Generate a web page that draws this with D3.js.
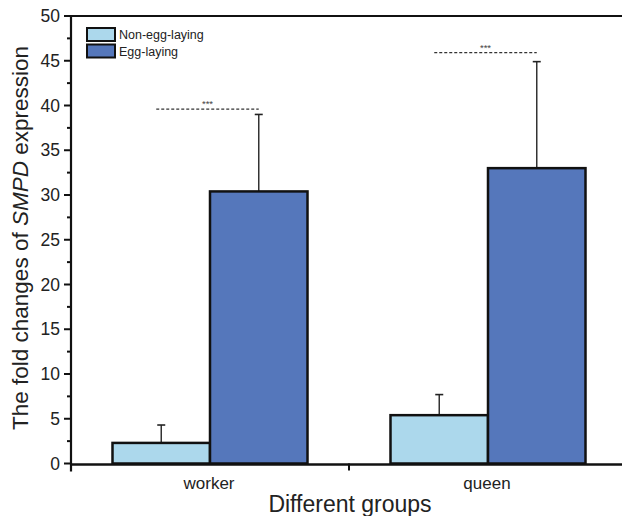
<!DOCTYPE html>
<html><head><meta charset="utf-8">
<script src="https://cdn.jsdelivr.net/npm/d3@7"></script>
<style>body{margin:0;background:#fff}svg{display:block;font-family:"Liberation Sans",Arial,sans-serif}</style>
</head><body><svg id="c" width="622" height="516"></svg>
<script>
const groups = ["worker", "queen"];
const seriesNames = ["Non-egg-laying", "Egg-laying"];
const meanNonEgg = [2.3, 5.4];
const meanEgg = [30.4, 33.0];
const errNonEgg = [2.0, 2.3];
const errEgg = [8.6, 11.9];
const sigLevel = [39.6, 45.9];
const sigLabel = ["***", "***"];
const yTicks = [0, 5, 10, 15, 20, 25, 30, 35, 40, 45, 50];
const colors = ["#acd8ec", "#5577bb"];

const svg = d3.select("#c");
const L = 71, R = 627, T = 16, B = 463.5;
const x = d3.scaleBand().domain(groups).range([L, R]).paddingInner(0).paddingOuter(0);
const xs = d3.scaleBand().domain(seriesNames).range([0, x.bandwidth()]).paddingInner(0).paddingOuter(0.4256);
const y = d3.scaleLinear().domain([0, 50]).range([B, T]);

const data = [];
groups.forEach((g, i) => {
  data.push({g, s: seriesNames[0], v: meanNonEgg[i], e: errNonEgg[i], c: colors[0]});
  data.push({g, s: seriesNames[1], v: meanEgg[i], e: errEgg[i], c: colors[1]});
});
data.forEach(d => {
  const cx = x(d.g) + xs(d.s) + xs.bandwidth() / 2;
  svg.append("line").attr("x1", cx).attr("x2", cx).attr("y1", y(d.v)).attr("y2", y(d.v + d.e)).attr("stroke", "#333").attr("stroke-width", 1.5);
  svg.append("line").attr("x1", cx - 4).attr("x2", cx + 4).attr("y1", y(d.v + d.e)).attr("y2", y(d.v + d.e)).attr("stroke", "#222").attr("stroke-width", 1.6);
});
svg.selectAll("rect.bar").data(data).join("rect").attr("class", "bar")
  .attr("x", d => x(d.g) + xs(d.s))
  .attr("y", d => y(d.v))
  .attr("width", xs.bandwidth())
  .attr("height", d => y(0) - y(d.v))
  .attr("fill", d => d.c).attr("stroke", "#111").attr("stroke-width", 2.5);

groups.forEach((g, i) => {
  const x1 = x(g) + xs(seriesNames[0]) + xs.bandwidth() / 2 - 5;
  const x2 = x(g) + xs(seriesNames[1]) + xs.bandwidth() / 2;
  svg.append("line").attr("x1", x1).attr("x2", x2).attr("y1", y(sigLevel[i])).attr("y2", y(sigLevel[i]))
    .attr("stroke", "#333").attr("stroke-width", 1.2).attr("stroke-dasharray", "3,2");
  svg.append("text").attr("x", (x1 + x2) / 2).attr("y", y(sigLevel[i]) - 2).attr("text-anchor", "middle")
    .attr("font-size", 9.5).attr("fill", "#444").text(sigLabel[i]);
});

const yMinor = d3.range(2.5, 50, 5);
svg.selectAll("line.minor").data(yMinor).join("line").attr("x1", L - 4).attr("x2", L).attr("y1", d => y(d)).attr("y2", d => y(d)).attr("stroke", "#111").attr("stroke-width", 2);
svg.selectAll("line.major").data(yTicks).join("line").attr("x1", L - 7).attr("x2", L).attr("y1", d => y(d)).attr("y2", d => y(d)).attr("stroke", "#111").attr("stroke-width", 2);
svg.selectAll("text.yt").data(yTicks).join("text").attr("x", L - 11).attr("y", d => y(d) + 6).attr("text-anchor", "end")
  .attr("font-size", 17.5).attr("fill", "#222").text(d => d);
svg.append("line").attr("x1", L).attr("x2", L).attr("y1", T - 1).attr("y2", B + 8).attr("stroke", "#111").attr("stroke-width", 2.2);
svg.append("line").attr("x1", L - 1).attr("x2", 622).attr("y1", T).attr("y2", T).attr("stroke", "#111").attr("stroke-width", 2.2);

svg.append("line").attr("x1", L - 1).attr("x2", 622).attr("y1", B + 1).attr("y2", B + 1).attr("stroke", "#111").attr("stroke-width", 2.5);
[x("queen")].forEach(v => svg.append("line").attr("x1", v).attr("x2", v).attr("y1", B).attr("y2", B + 7).attr("stroke", "#111").attr("stroke-width", 2));
svg.selectAll("text.xt").data(groups).join("text").attr("x", d => x(d) + x.bandwidth() / 2 - 1).attr("y", 489).attr("text-anchor", "middle")
  .attr("font-size", 17).attr("fill", "#222").text(d => d);
svg.append("text").attr("x", 350).attr("y", 512).attr("text-anchor", "middle").attr("font-size", 23).attr("fill", "#222").text("Different groups");

const yl = svg.append("text").attr("transform", `translate(28,238) rotate(-90)`).attr("text-anchor", "middle").attr("font-size", 22.5).attr("fill", "#222");
yl.append("tspan").text("The fold changes of ");
yl.append("tspan").attr("font-style", "italic").text("SMPD");
yl.append("tspan").text(" expression");

seriesNames.forEach((s, i) => {
  svg.append("rect").attr("x", 87).attr("y", 28 + i * 16.5).attr("width", 28).attr("height", 13).attr("fill", colors[i]).attr("stroke", "#111").attr("stroke-width", 2);
  svg.append("text").attr("x", 119).attr("y", 39 + i * 16.5).attr("font-size", 12.5).attr("fill", "#222").text(s);
});
</script></body></html>
